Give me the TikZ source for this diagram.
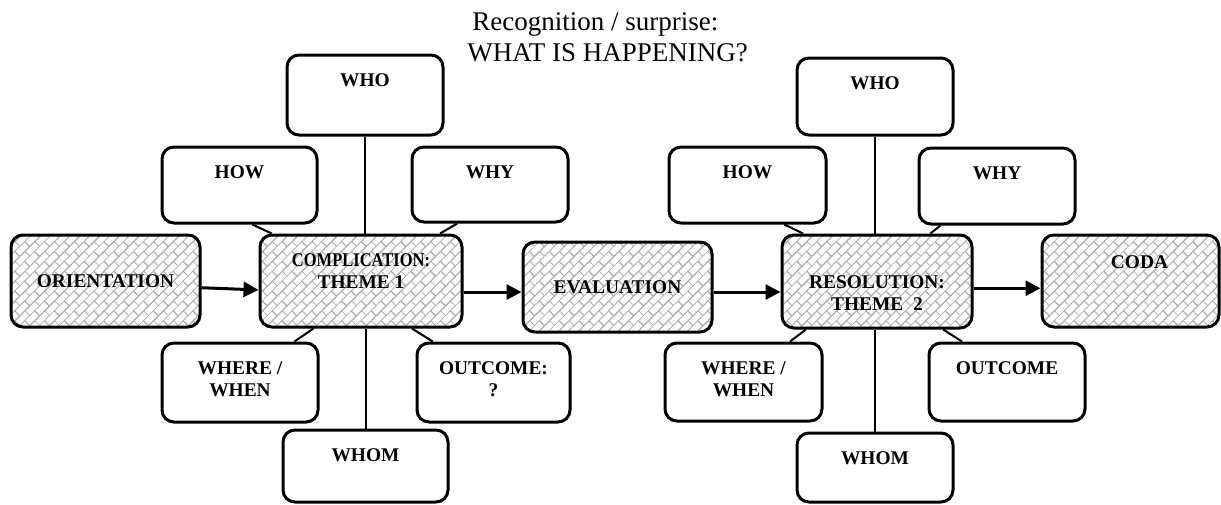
\documentclass[tikz,border=0pt]{standalone}
\usepackage{fontspec}
\setmainfont{Liberation Serif}
\usetikzlibrary{arrows.meta,patterns.meta}

\pgfdeclarepattern{
  name=slantbricks,
  type=uncolored,
  bottom left={\pgfpoint{-.1pt}{-.1pt}},
  top right={\pgfpoint{7.1pt}{7.1pt}},
  tile size={\pgfpoint{7pt}{7pt}},
  tile transformation={\pgftransformrotate{45}},
  code={
    \pgfsetlinewidth{0.6pt}
    \pgfpathmoveto{\pgfpoint{0pt}{0pt}}\pgfpathlineto{\pgfpoint{7pt}{0pt}}
    \pgfpathmoveto{\pgfpoint{0pt}{3.5pt}}\pgfpathlineto{\pgfpoint{7pt}{3.5pt}}
    \pgfpathmoveto{\pgfpoint{0pt}{0pt}}\pgfpathlineto{\pgfpoint{0pt}{3.5pt}}
    \pgfpathmoveto{\pgfpoint{3.5pt}{3.5pt}}\pgfpathlineto{\pgfpoint{3.5pt}{7pt}}
    \pgfusepath{stroke}
  }
}

\begin{document}
\begin{tikzpicture}[x=0.5pt, y=-0.5pt,
    box/.style={draw, line width=1.5pt, rounded corners=6pt, inner sep=0pt},
    sat/.style={box, minimum width=78pt, minimum height=39pt},
    hub/.style={box, pattern=slantbricks, pattern color=gray!65},
    tag/.style={font=\fontsize{9.7}{11}\selectfont\bfseries, align=center, inner sep=0pt},
    top text/.style={label={[tag, anchor=north, yshift=-10pt]north:{#1}}},
    link/.style={line width=1pt},
    arr/.style={line width=1.5pt, -{Triangle[length=7.5pt, width=7.5pt]}}]
    \useasboundingbox (0,0) rectangle (1221,504);
    % title
    \node[font=\fontsize{13.5}{15.5}\selectfont, align=left, inner sep=0pt, anchor=north west] (title) at (467,12.5) {\hspace*{2.5pt}Recognition / surprise:\\WHAT IS HAPPENING?};
    % first theme
    \node[hub, tag, minimum width=94.5pt, minimum height=46pt] (orient) at (105.5,281) {ORIENTATION};
    \node[hub, minimum width=101pt, minimum height=46pt, top text={\scalebox{0.85}[1]{COMPLICATION:}\\THEME 1}] (comp1) at (361,281) {};
    \node[sat, minimum height=40pt, top text=WHO] (who1) at (365,95) {};
    \node[sat, minimum width=77.5pt, minimum height=38pt, top text=HOW] (how1) at (239.5,185) {};
    \node[sat, minimum height=37.5pt, top text=WHY] (why1) at (490,184.5) {};
    \node[sat, minimum height=39.5pt, top text={WHERE /\\WHEN}] (ww1) at (240,382.5) {};
    \node[sat, minimum width=76.5pt, minimum height=39.5pt, top text={OUTCOME:\\?}] (out1) at (493.5,382.5) {};
    \node[sat, minimum width=82.5pt, minimum height=36pt, top text=WHOM] (whom1) at (365.5,466) {};
    % evaluation
    \node[hub, tag, minimum width=94.5pt, minimum height=45pt] (eval) at (617.5,287) {EVALUATION};
    % second theme
    \node[hub, minimum width=95pt, minimum height=46.5pt, label={[tag, anchor=north, yshift=-21pt]north:{RESOLUTION:\\THEME~ 2}}] (res2) at (877,281.5) {};
    \node[sat, minimum height=38.5pt, top text=WHO] (who2) at (875,96.5) {};
    \node[sat, minimum width=78.5pt, minimum height=38pt, top text=HOW] (how2) at (747.5,185) {};
    \node[sat, minimum height=38pt, top text=WHY] (why2) at (997,186) {};
    \node[sat, minimum width=78.5pt, top text={WHERE /\\WHEN}] (ww2) at (743.5,382) {};
    \node[sat, top text=OUTCOME] (out2) at (1007,382) {};
    \node[sat, minimum height=34.5pt, top text=WHOM] (whom2) at (875,467.5) {};
    \node[hub, minimum width=88.5pt, minimum height=46pt, label={[tag, anchor=north, yshift=-11pt, xshift=4.5pt]north:CODA}] (coda) at (1130.5,281) {};
    % spokes
    \draw[link] (who1.south) -- (who1.south |- comp1.north);
    \draw[link] (whom1.north) -- (whom1.north |- comp1.south);
    \draw[link] (how1.-72) -- (comp1.152);
    \draw[link] (why1.-130) -- (comp1.31);
    \draw[link] (ww1.37) -- (comp1.-135);
    \draw[link] (out1.146) -- (comp1.-43);
    \draw[link] (who2.south) -- (who2.south |- res2.north);
    \draw[link] (whom2.north) -- (whom2.north |- res2.south);
    \draw[link] (how2.-47) -- (res2.147);
    \draw[link] (why2.-145) -- (res2.42);
    \draw[link] (ww2.41) -- (res2.-146);
    \draw[link] (out2.138) -- (res2.-36);
    % story line
    \draw[arr] (orient.-4) -- (comp1.185);
    \draw[arr] (comp1.east |- eval.183) -- (eval.183);
    \draw[arr] (eval.-3) -- (eval.-3 -| res2.west);
    \draw[arr] (res2.-4) -- (res2.-4 -| coda.west);
\end{tikzpicture}
\end{document}
